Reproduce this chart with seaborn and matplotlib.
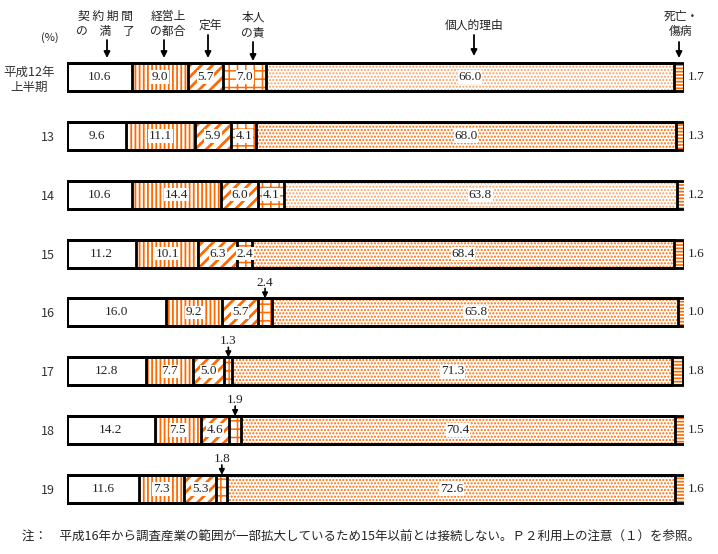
import numpy as np
import pandas as pd
import seaborn as sns
import matplotlib.pyplot as plt

sns.set_style("white")
plt.rcParams['font.family'] = ['Noto Sans CJK JP', 'DejaVu Sans']
plt.rcParams['hatch.linewidth'] = 1.0

# data (%)
rows = ["平成12年\n上半期", "13", "14", "15", "16", "17", "18", "19"]
keiyaku = [10.6, 9.6, 10.6, 11.2, 16.0, 12.8, 14.2, 11.6]   # 契約期間の満了
keiei = [9.0, 11.1, 14.4, 10.1, 9.2, 7.7, 7.5, 7.3]         # 経営上の都合
teinen = [5.7, 5.9, 6.0, 6.3, 5.7, 5.0, 4.6, 5.3]           # 定年
honnin = [7.0, 4.1, 4.1, 2.4, 2.4, 1.3, 1.9, 1.8]           # 本人の責
kojin = [66.0, 68.0, 63.8, 68.4, 65.8, 71.3, 70.4, 72.6]    # 個人的理由
shibo = [1.7, 1.3, 1.2, 1.6, 1.0, 1.8, 1.5, 1.6]            # 死亡・傷病

segments = [keiyaku, keiei, teinen, honnin, kojin, shibo]
hatches = [None, "||||", "///", "++", ".....", "-----"]
hatch_lw = [1.0, 1.3, 2.0, 1.1, 1.0, 1.2]
callout_rows = [4, 5, 6, 7]   # 本人の責 labelled above the bar

orange = "#FF6A00"
W, H = 718, 554
BAR_W = 0.476

df = pd.DataFrame({"row": rows})
vals = np.array(segments)
cum = np.cumsum(vals, axis=0)

fig = plt.figure(figsize=(W / 100, H / 100), dpi=100)
top_px, bot_px = 47.6, 518.4
ax = fig.add_axes([67 / W, 1 - bot_px / H, 617 / W, (bot_px - top_px) / H])

# hatched segments, longest first so shorter ones sit on top
for k in range(len(segments) - 1, -1, -1):
    df["end"] = cum[k]
    n0 = len(ax.patches)
    sns.barplot(data=df, x="end", y="row", orient="h", width=BAR_W,
                color="white", ax=ax)
    for j, p in enumerate(ax.patches[n0:]):
        p.set_facecolor("white")
        p.set_linewidth(0)
        if hatches[k]:
            ec = orange
            if k == 4 and j in (0, 2):
                ec = "#F4A060"
            p.set_edgecolor(ec)
            p.set_hatch(hatches[k])
            if hasattr(p, "set_hatch_linewidth"):
                p.set_hatch_linewidth(hatch_lw[k])
        else:
            p.set_edgecolor("white")

# black outlines of every segment
for k in range(len(segments)):
    df["end"] = cum[k]
    n0 = len(ax.patches)
    sns.barplot(data=df, x="end", y="row", orient="h", width=BAR_W,
                color="black", fill=False, ax=ax)
    for p in ax.patches[n0:]:
        p.set_facecolor("none")
        p.set_edgecolor("black")
        p.set_linewidth(2.0)
        p.set_hatch(None)

num_font = dict(family=["Liberation Serif"], fontsize=9.5, color="#222222")

for i in range(len(rows)):
    for k in range(len(segments)):
        v = vals[k, i]
        mid = cum[k, i] - v / 2
        txt = f"{v:.1f}"
        if k == 5:
            ax.text(100.6, i, txt, ha="left", va="center", **num_font)
        elif k == 3 and i in callout_rows:
            top = i - BAR_W / 2
            ax.annotate("", xy=(mid, top), xytext=(mid, top - 0.17),
                        arrowprops=dict(arrowstyle="-|>", color="black",
                                        lw=1.2, mutation_scale=8,
                                        shrinkA=0, shrinkB=0))
            ax.text(mid, top - 0.27, txt, ha="center", va="center", **num_font)
        elif k == 0:
            ax.text(mid, i, txt, ha="center", va="center", **num_font)
        else:
            ax.text(mid, i, txt, ha="center", va="center",
                    bbox=dict(facecolor="white", edgecolor="none", pad=0.5),
                    **num_font)

ax.set_xlim(0, 100)
ax.set_ylim(len(rows) - 0.5, -0.5)
ax.set_xlabel("")
ax.set_ylabel("")
ax.set_xticks([])
ax.tick_params(axis="y", length=0, pad=9, labelsize=9, labelcolor="#333333")
for lab in ax.get_yticklabels():
    lab.set_multialignment("center")
for s in ax.spines.values():
    s.set_visible(False)


def ftext(x, y, s, size=8.5, **kw):
    fig.text(x / W, 1 - y / H, s, ha="center", va="center", fontsize=size,
             color="#222222", **kw)


def farrow(x, y0, y1):
    ax.annotate("", xy=(x, H - y1), xytext=(x, H - y0), xycoords="figure pixels",
                textcoords="figure pixels",
                arrowprops=dict(arrowstyle="-|>", color="black", lw=1.3,
                                mutation_scale=9, shrinkA=0, shrinkB=0))


# column headers
ftext(105, 24, "契 約 期 間\nの　満　了", linespacing=1.25)
farrow(107, 40, 58)
ftext(168, 24, "経営上\nの都合", linespacing=1.25)
farrow(164, 40, 58)
ftext(210, 25, "定年")
farrow(208, 35, 58)
ftext(253, 25, "本人\nの責", linespacing=1.25)
farrow(253, 42, 61)
ftext(474, 25, "個人的理由")
farrow(474, 35, 56)
ftext(681, 24, "死亡・\n傷病", linespacing=1.25)
farrow(679, 42, 58)
ftext(50, 38, "(%)", size=8)

fig.text(22 / W, 1 - 537 / H,
         "注：　平成16年から調査産業の範囲が一部拡大しているため15年以前とは接続しない。Ｐ２利用上の注意（１）を参照。",
         ha="left", va="center", fontsize=9.0, color="#222222")

fig.savefig("out.png", dpi=100)
